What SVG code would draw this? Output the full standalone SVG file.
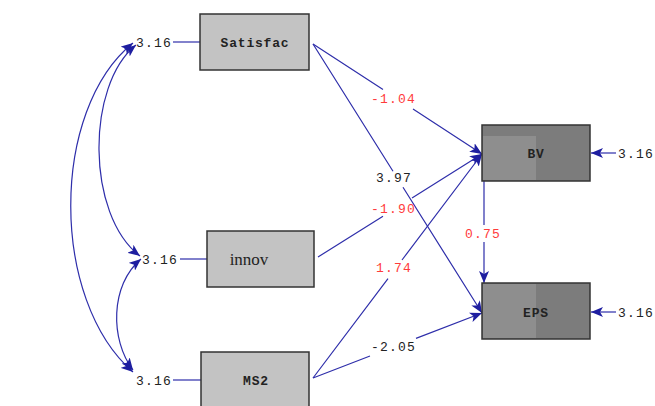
<svg xmlns="http://www.w3.org/2000/svg" width="655" height="406" viewBox="0 0 655 406">
<style>
.bx{fill:#c3c3c3;stroke:#333;stroke-width:1.5}
.dk{fill:#7c7c7c;stroke:#333;stroke-width:1.5}
.nm{font-family:"Liberation Mono",monospace;font-weight:bold;font-size:13px;fill:#222;text-anchor:middle;letter-spacing:0.8px}
.sf{font-family:"Liberation Serif",serif;font-size:17px;fill:#222;text-anchor:middle}
.v{font-family:"Liberation Mono",monospace;font-size:13px;letter-spacing:1.2px}
.r{fill:#ff3b3b}
.k{fill:#222}
.ln{fill:none;stroke:#2e2eaa;stroke-width:1.2}
</style>
<defs>
<marker id="ah" viewBox="0 0 12 10" refX="12" refY="5" markerWidth="12" markerHeight="10" markerUnits="userSpaceOnUse" orient="auto">
<path d="M0,0 L12,5 L0,10 L3,5 Z" fill="#1e1ea0"/>
</marker>
<marker id="ah2" viewBox="0 0 12 10" refX="12" refY="5" markerWidth="12" markerHeight="10" markerUnits="userSpaceOnUse" orient="auto-start-reverse">
<path d="M0,0 L12,5 L0,10 L3,5 Z" fill="#1e1ea0"/>
</marker>
</defs>
<rect width="655" height="406" fill="#fff"/>
<g id="connectors">
<path class="ln" d="M313,44 L383,89.6 M413,109 L482,154" marker-end="url(#ah)"/>
<path class="ln" d="M313,44 L393,171.3 M403,187.3 L482,313" marker-end="url(#ah)"/>
<path class="ln" d="M318,257 L383,216.2 M412,198 L482,154" marker-end="url(#ah)"/>
<path class="ln" d="M313,378 L388,278.6 M402,260 L482,154" marker-end="url(#ah)"/>
<path class="ln" d="M313,378 L370,356 M416,338.4 L482,313" marker-end="url(#ah)"/>
<path class="ln" d="M484,181 L484,225 M484,242 L484,283" marker-end="url(#ah)"/>
<path class="ln" d="M136,45 C86,85 86,215 140,256" marker-start="url(#ah2)" marker-end="url(#ah2)"/>
<path class="ln" d="M133,43 C50,110 50,300 133,372" marker-start="url(#ah2)" marker-end="url(#ah2)"/>
<path class="ln" d="M141,259 C110,285 110,340 133,370" marker-start="url(#ah2)" marker-end="url(#ah2)"/>
<path class="ln" d="M173,42 L200,42"/>
<path class="ln" d="M180,259 L207,259"/>
<path class="ln" d="M173,380 L201,380"/>
<path class="ln" d="M616,153 L591,153" stroke-width="1.8" marker-end="url(#ah)"/>
<path class="ln" d="M616,312 L591,312" stroke-width="1.8" marker-end="url(#ah)"/>
<text class="v r" x="371" y="103">-1.04</text>
<text class="v k" x="376" y="182">3.97</text>
<text class="v r" x="371" y="213">-1.90</text>
<text class="v r" x="376" y="272">1.74</text>
<text class="v k" x="371" y="351">-2.05</text>
<text class="v r" x="465" y="238">0.75</text>
</g>
<g id="Satisfac">
<rect class="bx" x="200" y="14" width="109" height="56"/>
<text class="nm" x="255" y="47">Satisfac</text>
<text class="v k" x="136" y="47">3.16</text>
</g>
<g id="innov">
<rect class="bx" x="207" y="231" width="107" height="56"/>
<text class="sf" x="249" y="265">innov</text>
<text class="v k" x="142" y="264">3.16</text>
</g>
<g id="MS2">
<rect class="bx" x="201" y="352" width="108" height="60"/>
<text class="nm" x="256" y="385">MS2</text>
<text class="v k" x="136" y="385">3.16</text>
</g>
<g id="BV">
<rect class="dk" x="482" y="125" width="108" height="56"/>
<rect x="483" y="136" width="53" height="44" fill="#8e8e8e"/>
<text class="nm" x="536" y="158">BV</text>
<text class="v k" x="618" y="158">3.16</text>
</g>
<g id="EPS">
<rect class="dk" x="482" y="283" width="108" height="56"/>
<rect x="483" y="284" width="53" height="54" fill="#8e8e8e"/>
<text class="nm" x="536" y="317">EPS</text>
<text class="v k" x="618" y="317">3.16</text>
</g>
</svg>
